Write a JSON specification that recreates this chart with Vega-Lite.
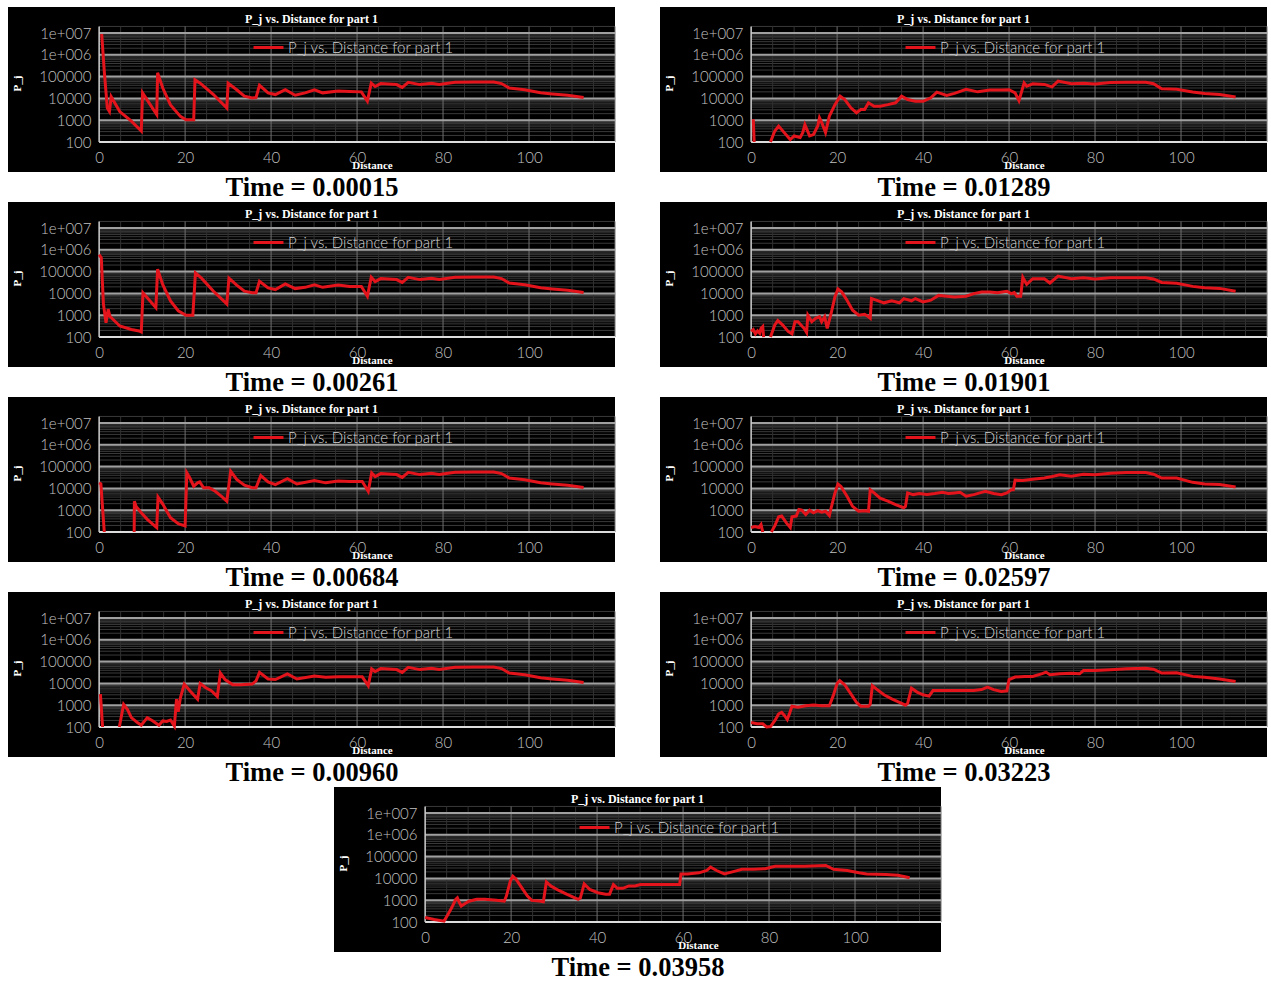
{
"$schema": "https://vega.github.io/schema/vega-lite/v6.json",
"background": "white",
"padding": {"left": 8, "top": 7, "right": 0, "bottom": 0},
"spacing": 0,
"center": true,
"resolve": {"scale": {"color": "independent"}, "legend": {"color": "independent"}},
"config": {
  "view": {"fill": "black", "stroke": null},
  "axis": {"domain": false, "ticks": false, "grid": false, "labelFont": "Lato", "labelFontSize": 15, "labelFontWeight": 300, "labelColor": "#c0c0c0", "labelFlush": false, "labelOverlap": false, "titleFont": "Liberation Serif", "titleFontSize": 11, "titleFontWeight": "bold", "titleColor": "white"},
  "legend": {"orient": "none", "legendX": 244, "legendY": 24, "padding": 0, "symbolType": "stroke", "symbolSize": 900, "symbolStrokeWidth": 3, "labelFont": "Lato", "labelFontSize": 15, "labelFontWeight": 300, "labelColor": "#d4d4d4", "labelOffset": 3, "labelLimit": 0}
},
"datasets": {
  "gh": [
    {"v":200,"k":"minor"},{"v":300,"k":"minor"},{"v":400,"k":"minor"},{"v":500,"k":"minor"},{"v":600,"k":"minor"},{"v":700,"k":"minor"},{"v":800,"k":"minor"},{"v":900,"k":"minor"},
    {"v":2000,"k":"minor"},{"v":3000,"k":"minor"},{"v":4000,"k":"minor"},{"v":5000,"k":"minor"},{"v":6000,"k":"minor"},{"v":7000,"k":"minor"},{"v":8000,"k":"minor"},{"v":9000,"k":"minor"},
    {"v":20000,"k":"minor"},{"v":30000,"k":"minor"},{"v":40000,"k":"minor"},{"v":50000,"k":"minor"},{"v":60000,"k":"minor"},{"v":70000,"k":"minor"},{"v":80000,"k":"minor"},{"v":90000,"k":"minor"},
    {"v":200000,"k":"minor"},{"v":300000,"k":"minor"},{"v":400000,"k":"minor"},{"v":500000,"k":"minor"},{"v":600000,"k":"minor"},{"v":700000,"k":"minor"},{"v":800000,"k":"minor"},{"v":900000,"k":"minor"},
    {"v":2000000,"k":"minor"},{"v":3000000,"k":"minor"},{"v":4000000,"k":"minor"},{"v":5000000,"k":"minor"},{"v":6000000,"k":"minor"},{"v":7000000,"k":"minor"},{"v":8000000,"k":"minor"},{"v":9000000,"k":"minor"},
    {"v":20000000,"k":"minor"},
    {"v":1000,"k":"major"},{"v":10000,"k":"major"},{"v":100000,"k":"major"},{"v":1000000,"k":"major"},{"v":10000000,"k":"major"},
    {"v":100,"k":"axis"}
  ],
  "gv": [
    {"d":5,"k":"minor"},{"d":10,"k":"minor"},{"d":15,"k":"minor"},{"d":25,"k":"minor"},{"d":30,"k":"minor"},{"d":35,"k":"minor"},{"d":45,"k":"minor"},{"d":50,"k":"minor"},{"d":55,"k":"minor"},
    {"d":65,"k":"minor"},{"d":70,"k":"minor"},{"d":75,"k":"minor"},{"d":85,"k":"minor"},{"d":90,"k":"minor"},{"d":95,"k":"minor"},{"d":105,"k":"minor"},{"d":110,"k":"minor"},{"d":115,"k":"minor"},
    {"d":20,"k":"major"},{"d":40,"k":"major"},{"d":60,"k":"major"},{"d":80,"k":"major"},{"d":100,"k":"major"},{"d":120,"k":"major"},
    {"d":0,"k":"axis"}
  ],
  "a": [
    {"d":0.6,"p":9000000},{"d":1.2,"p":170000},{"d":1.9,"p":3600},{"d":2.4,"p":2500},{"d":2.8,"p":12000},{"d":4.8,"p":2500},{"d":7.5,"p":900},{"d":9.8,"p":320},{"d":10.1,"p":18000},{"d":13.4,"p":1800},{"d":13.6,"p":150000},{"d":14.8,"p":30000},{"d":16.6,"p":5000},{"d":18.9,"p":1500},{"d":20.2,"p":1050},{"d":22,"p":1050},{"d":22.3,"p":72000},{"d":23.5,"p":50000},{"d":26.6,"p":15000},{"d":29.7,"p":3600},{"d":30,"p":50000},{"d":32,"p":25000},{"d":33.8,"p":12600},{"d":35.6,"p":10500},{"d":36.5,"p":11000},{"d":37.3,"p":40000},{"d":39.3,"p":18000},{"d":41,"p":15000},{"d":43.3,"p":25000},{"d":45.6,"p":14000},{"d":47.9,"p":18000},{"d":50.1,"p":25000},{"d":52,"p":18000},{"d":55.6,"p":22000},{"d":58.3,"p":21000},{"d":61,"p":20000},{"d":62.4,"p":7500},{"d":63.3,"p":50000},
    {"d":64.2,"p":35000},{"d":65.5,"p":48000},{"d":69.2,"p":43000},{"d":70.5,"p":32000},{"d":71.9,"p":55000},{"d":74.6,"p":43000},{"d":77.3,"p":50000},{"d":79.1,"p":43000},{"d":82.8,"p":55000},{"d":87.3,"p":57000},{"d":91.8,"p":57000},{"d":93.6,"p":48000},{"d":95.4,"p":30000},{"d":99,"p":25000},{"d":102.7,"p":18000},{"d":105.4,"p":16000},{"d":109,"p":14000},{"d":112.7,"p":11000}
  ],
  "b": [
    {"d":0,"p":600000},{"d":0.5,"p":430000},{"d":1,"p":3200},{"d":1.6,"p":450},{"d":2.1,"p":1900},{"d":2.5,"p":900},{"d":4.8,"p":320},{"d":7.5,"p":220},{"d":9.3,"p":190},{"d":9.8,"p":170},{"d":10.2,"p":10700},{"d":13.2,"p":2200},{"d":13.6,"p":130000},{"d":14.8,"p":25000},{"d":16.6,"p":4500},{"d":18.4,"p":1600},{"d":20.2,"p":1000},{"d":21.8,"p":1000},{"d":22.4,"p":87000},{"d":23.8,"p":50000},{"d":26.6,"p":12600},{"d":29.7,"p":3300},{"d":30.2,"p":50000},{"d":32,"p":24000},{"d":33.8,"p":12600},{"d":35.6,"p":10700},{"d":36.5,"p":10700},{"d":37.3,"p":36000},{"d":39.3,"p":18000},{"d":41,"p":15000},{"d":43.3,"p":27500},{"d":45.6,"p":16600},{"d":47.9,"p":19000},{"d":50.1,"p":25000},{"d":52,"p":19000},{"d":55.6,"p":24000},{"d":58.3,"p":21000},{"d":61,"p":21000},{"d":62.4,"p":7400},{"d":63.3,"p":55000},
    {"d":64.2,"p":35000},{"d":65.5,"p":48000},{"d":69.2,"p":43000},{"d":70.5,"p":32000},{"d":71.9,"p":55000},{"d":74.6,"p":43000},{"d":77.3,"p":50000},{"d":79.1,"p":43000},{"d":82.8,"p":55000},{"d":87.3,"p":57000},{"d":91.8,"p":57000},{"d":93.6,"p":48000},{"d":95.4,"p":30000},{"d":99,"p":25000},{"d":102.7,"p":18000},{"d":105.4,"p":16000},{"d":109,"p":14000},{"d":112.7,"p":11000}
  ],
  "c": [
    {"d":0,"p":18000},{"d":0.4,"p":16000},{"d":1.2,"p":100},{"d":4,"p":null},{"d":8.15,"p":100},{"d":8.2,"p":2600},{"d":8.6,"p":1500},{"d":9.8,"p":760},{"d":11.2,"p":380},{"d":13.4,"p":160},{"d":13.7,"p":4000},{"d":14.8,"p":1900},{"d":16.6,"p":450},{"d":18.4,"p":240},{"d":20,"p":190},{"d":20.4,"p":52000},{"d":21.1,"p":30000},{"d":22,"p":12600},{"d":22.9,"p":18000},{"d":23.4,"p":20000},{"d":24.3,"p":10700},{"d":25.6,"p":10700},{"d":27,"p":7400},{"d":28.4,"p":4400},{"d":29.7,"p":2600},{"d":30.6,"p":62000},{"d":32,"p":26000},{"d":33.8,"p":14000},{"d":35.6,"p":10700},{"d":36.5,"p":10700},{"d":37.6,"p":39000},{"d":39.3,"p":20000},{"d":41,"p":15000},{"d":43.8,"p":28000},{"d":46,"p":16000},{"d":50.1,"p":23000},{"d":52.7,"p":18000},{"d":55.6,"p":22000},{"d":58.3,"p":21000},{"d":61.2,"p":21000},{"d":62.6,"p":7400},{"d":63.4,"p":51000},
    {"d":64.2,"p":35000},{"d":65.5,"p":48000},{"d":69.2,"p":43000},{"d":70.5,"p":32000},{"d":71.9,"p":55000},{"d":74.6,"p":43000},{"d":77.3,"p":50000},{"d":79.1,"p":43000},{"d":82.8,"p":55000},{"d":87.3,"p":57000},{"d":91.8,"p":57000},{"d":93.6,"p":48000},{"d":95.4,"p":30000},{"d":99,"p":25000},{"d":102.7,"p":18000},{"d":105.4,"p":16000},{"d":109,"p":14000},{"d":112.7,"p":11000}
  ],
  "dd": [
    {"d":0.3,"p":3200},{"d":0.8,"p":100},{"d":2.5,"p":null},{"d":4.7,"p":100},{"d":5.7,"p":1100},{"d":6.6,"p":630},{"d":7.5,"p":270},{"d":8.9,"p":160},{"d":9.8,"p":120},{"d":11.2,"p":270},{"d":12.5,"p":190},{"d":13.9,"p":120},{"d":14.8,"p":190},{"d":15.7,"p":180},{"d":16.6,"p":210},{"d":17.5,"p":110},{"d":18,"p":1900},{"d":18.4,"p":500},{"d":18.9,"p":2200},{"d":19.8,"p":9300},{"d":21.1,"p":4600},{"d":22.9,"p":1900},{"d":23.5,"p":10000},{"d":24.8,"p":6300},{"d":26.1,"p":4600},{"d":27.5,"p":2500},{"d":28.2,"p":30000},{"d":29.3,"p":15000},{"d":31.1,"p":8700},{"d":33,"p":8700},{"d":35.6,"p":9300},{"d":36.5,"p":13000},{"d":37.3,"p":32000},{"d":39.3,"p":16000},{"d":41,"p":15000},{"d":43.8,"p":27000},{"d":46,"p":16000},{"d":50.1,"p":22000},{"d":52.7,"p":19000},{"d":55.6,"p":20000},{"d":58.3,"p":20000},{"d":61.2,"p":20000},{"d":62.6,"p":7900},{"d":63.4,"p":46000},
    {"d":64.2,"p":35000},{"d":65.5,"p":48000},{"d":69.2,"p":43000},{"d":70.5,"p":32000},{"d":71.9,"p":55000},{"d":74.6,"p":43000},{"d":77.3,"p":50000},{"d":79.1,"p":43000},{"d":82.8,"p":55000},{"d":87.3,"p":57000},{"d":91.8,"p":57000},{"d":93.6,"p":48000},{"d":95.4,"p":30000},{"d":99,"p":25000},{"d":102.7,"p":18000},{"d":105.4,"p":16000},{"d":109,"p":14000},{"d":112.7,"p":11000}
  ],
  "e": [
    {"d":0.5,"p":1100},{"d":0.7,"p":100},{"d":2.5,"p":null},{"d":4.5,"p":100},{"d":5.5,"p":320},{"d":6.4,"p":540},{"d":7.7,"p":270},{"d":9.1,"p":130},{"d":10,"p":190},{"d":11.4,"p":160},{"d":12,"p":270},{"d":12.5,"p":630},{"d":13.6,"p":190},{"d":14.5,"p":220},{"d":15.5,"p":540},{"d":15.9,"p":1300},{"d":16.4,"p":800},{"d":17.3,"p":270},{"d":18.2,"p":1550},{"d":19.5,"p":5200},{"d":20.7,"p":12600},{"d":21.8,"p":8900},{"d":23.2,"p":3700},{"d":24.5,"p":2200},{"d":25.5,"p":3100},{"d":26.4,"p":3100},{"d":27.3,"p":6300},{"d":28.6,"p":4400},{"d":30,"p":4400},{"d":31.8,"p":5200},{"d":33.6,"p":6300},{"d":35,"p":12600},{"d":36.4,"p":8900},{"d":38.2,"p":7400},{"d":40,"p":7400},{"d":41.8,"p":10700},{"d":43.2,"p":19500},{"d":45.5,"p":13800},{"d":47.3,"p":17000},{"d":50,"p":26000},{"d":52.7,"p":20000},{"d":55.5,"p":24000},{"d":58.2,"p":24000},{"d":60,"p":25000},{"d":61.4,"p":18000},{"d":62.3,"p":7900},{"d":63.5,"p":51000},{"d":64.1,"p":36000},{"d":65.5,"p":47000},{"d":68.2,"p":44000},{"d":70,"p":34000},{"d":71.4,"p":62000},{"d":74.5,"p":47000},{"d":77.3,"p":50000},{"d":80,"p":46000},{"d":83.6,"p":53000},{"d":87.3,"p":55000},{"d":91.8,"p":55000},{"d":93.6,"p":47000},{"d":95.5,"p":28000},{"d":99,"p":26000},{"d":102.7,"p":19500},{"d":105.5,"p":17000},{"d":109,"p":15000},{"d":112.7,"p":11700}
  ],
  "f": [
    {"d":0,"p":180},{"d":0.5,"p":220},{"d":1,"p":140},{"d":1.5,"p":190},{"d":2,"p":150},{"d":2.3,"p":250},{"d":2.7,"p":300},{"d":2.9,"p":100},{"d":3.7,"p":null},{"d":4.5,"p":100},{"d":5.5,"p":360},{"d":6.2,"p":570},{"d":7.3,"p":360},{"d":8.6,"p":180},{"d":9.5,"p":140},{"d":10.2,"p":500},{"d":10.9,"p":500},{"d":12.3,"p":250},{"d":12.9,"p":160},{"d":13.2,"p":1000},{"d":14.1,"p":500},{"d":15,"p":720},{"d":15.9,"p":850},{"d":16.4,"p":500},{"d":17.1,"p":850},{"d":17.7,"p":250},{"d":18.6,"p":1200},{"d":19.5,"p":7000},{"d":20.2,"p":16000},{"d":21.1,"p":11500},{"d":22.3,"p":4900},{"d":23.6,"p":1700},{"d":25,"p":1000},{"d":26.4,"p":1100},{"d":27.3,"p":850},{"d":27.7,"p":730},{"d":28,"p":5800},{"d":29.1,"p":4900},{"d":30.9,"p":3700},{"d":32.7,"p":4600},{"d":34.5,"p":3700},{"d":35.5,"p":5800},{"d":37.3,"p":4600},{"d":38.2,"p":5800},{"d":40,"p":4100},{"d":41.8,"p":4900},{"d":43.6,"p":8100},{"d":45.5,"p":7400},{"d":47.3,"p":6900},{"d":50,"p":7400},{"d":51.8,"p":9800},{"d":53.6,"p":11500},{"d":55.5,"p":11500},{"d":57.3,"p":10800},{"d":59.5,"p":12600},{"d":60.5,"p":9800},{"d":61.2,"p":11000},{"d":61.8,"p":7400},{"d":62.7,"p":7400},{"d":63.2,"p":55000},{"d":64.1,"p":26000},{"d":65.5,"p":47000},{"d":68.2,"p":47000},{"d":69.5,"p":30000},{"d":71.4,"p":62000},{"d":74.5,"p":47000},{"d":77.3,"p":52000},{"d":80,"p":46000},{"d":83.6,"p":52000},{"d":87.3,"p":52000},{"d":91.8,"p":52000},{"d":93.6,"p":46000},{"d":95.5,"p":32000},{"d":99,"p":29000},{"d":102.7,"p":21000},{"d":105.5,"p":18000},{"d":109,"p":17000},{"d":112.7,"p":12600}
  ],
  "g": [
    {"d":0,"p":160},{"d":0.9,"p":180},{"d":1.8,"p":160},{"d":2.3,"p":220},{"d":2.7,"p":100},{"d":3.7,"p":null},{"d":4.7,"p":100},{"d":5.5,"p":190},{"d":6.4,"p":500},{"d":7.1,"p":540},{"d":8.2,"p":260},{"d":9.1,"p":160},{"d":9.5,"p":500},{"d":10.5,"p":540},{"d":11.1,"p":1070},{"d":11.8,"p":1000},{"d":12.7,"p":630},{"d":13.6,"p":1000},{"d":14.5,"p":760},{"d":15.5,"p":950},{"d":16.4,"p":810},{"d":17.3,"p":900},{"d":18.2,"p":570},{"d":18.6,"p":1260},{"d":19.5,"p":6200},{"d":20.2,"p":16000},{"d":20.9,"p":12300},{"d":22.3,"p":4400},{"d":23.6,"p":1500},{"d":25,"p":900},{"d":26.4,"p":950},{"d":27.3,"p":900},{"d":27.7,"p":8700},{"d":28.6,"p":6200},{"d":30,"p":3600},{"d":31.8,"p":2600},{"d":33.6,"p":1800},{"d":35.5,"p":1300},{"d":35.9,"p":1500},{"d":36.4,"p":6200},{"d":37.7,"p":5200},{"d":39.1,"p":5800},{"d":40.9,"p":5200},{"d":42.7,"p":5800},{"d":44.5,"p":6600},{"d":45.9,"p":5800},{"d":47.3,"p":6200},{"d":48.6,"p":6600},{"d":50,"p":4400},{"d":51.8,"p":5200},{"d":53.6,"p":6600},{"d":54.5,"p":7300},{"d":56.4,"p":5800},{"d":58.2,"p":5100},{"d":59.5,"p":6200},{"d":60.5,"p":8700},{"d":61,"p":8700},{"d":61.4,"p":24000},{"d":63.2,"p":23000},{"d":65.5,"p":26000},{"d":68.2,"p":30000},{"d":70,"p":35000},{"d":71.8,"p":42000},{"d":74.5,"p":36000},{"d":77.3,"p":45000},{"d":80,"p":42000},{"d":83.6,"p":50000},{"d":87.3,"p":54000},{"d":91.8,"p":54000},{"d":93.6,"p":45000},{"d":95.5,"p":30000},{"d":99,"p":30000},{"d":102.7,"p":19000},{"d":105.5,"p":16000},{"d":109,"p":15000},{"d":112.7,"p":11500}
  ],
  "h": [
    {"d":0,"p":160},{"d":1.4,"p":140},{"d":2.7,"p":140},{"d":3.6,"p":100},{"d":4.5,"p":105},{"d":5.5,"p":195},{"d":6.4,"p":400},{"d":7.1,"p":470},{"d":7.7,"p":350},{"d":8.4,"p":220},{"d":8.9,"p":400},{"d":9.5,"p":900},{"d":10.9,"p":800},{"d":12.7,"p":950},{"d":14.5,"p":1020},{"d":16.4,"p":950},{"d":18.2,"p":950},{"d":19.1,"p":2750},{"d":20,"p":10000},{"d":20.6,"p":13500},{"d":21.8,"p":8500},{"d":23.2,"p":3300},{"d":24.5,"p":1350},{"d":25.5,"p":900},{"d":27.3,"p":900},{"d":27.7,"p":1100},{"d":28.2,"p":7900},{"d":29.1,"p":5600},{"d":30.9,"p":3000},{"d":32.7,"p":1950},{"d":34.5,"p":1350},{"d":35.9,"p":1000},{"d":36.4,"p":1200},{"d":37.3,"p":6000},{"d":38.6,"p":4000},{"d":40,"p":3000},{"d":41.4,"p":2600},{"d":42.3,"p":4700},{"d":43.6,"p":4700},{"d":46.4,"p":4700},{"d":49.1,"p":4700},{"d":51.8,"p":4700},{"d":53.6,"p":5200},{"d":55,"p":6700},{"d":56.4,"p":5200},{"d":58.2,"p":4300},{"d":59.5,"p":4600},{"d":60,"p":15000},{"d":61.4,"p":19500},{"d":63.6,"p":21000},{"d":65.5,"p":21000},{"d":67.7,"p":28000},{"d":68.6,"p":33000},{"d":69.5,"p":25000},{"d":71.8,"p":27500},{"d":74.5,"p":29000},{"d":76.4,"p":27500},{"d":77.3,"p":39000},{"d":80,"p":39000},{"d":83.6,"p":42000},{"d":87.3,"p":47000},{"d":91.8,"p":50000},{"d":93.6,"p":45000},{"d":95.5,"p":30000},{"d":99,"p":31000},{"d":102.7,"p":21000},{"d":105.5,"p":19000},{"d":109,"p":16000},{"d":112.7,"p":12300}
  ],
  "i": [
    {"d":0,"p":160},{"d":2.1,"p":130},{"d":4.4,"p":110},{"d":5.3,"p":220},{"d":6.2,"p":460},{"d":7.1,"p":1100},{"d":7.5,"p":1300},{"d":8,"p":760},{"d":8.4,"p":540},{"d":9.3,"p":700},{"d":10.2,"p":900},{"d":12,"p":1100},{"d":13.9,"p":1100},{"d":16.6,"p":1000},{"d":18.4,"p":900},{"d":18.9,"p":1550},{"d":19.8,"p":7400},{"d":20.4,"p":12600},{"d":21.1,"p":9500},{"d":22.5,"p":3700},{"d":23.8,"p":1550},{"d":24.8,"p":980},{"d":26.6,"p":910},{"d":27.5,"p":850},{"d":28.2,"p":6900},{"d":29.3,"p":4400},{"d":31.1,"p":2800},{"d":32.9,"p":1900},{"d":34.7,"p":1300},{"d":35.6,"p":1100},{"d":36.1,"p":1250},{"d":37,"p":5600},{"d":38.3,"p":3100},{"d":40.2,"p":2200},{"d":42,"p":1900},{"d":42.9,"p":1900},{"d":43.8,"p":5200},{"d":44.7,"p":3500},{"d":46,"p":3500},{"d":47.4,"p":4500},{"d":48.8,"p":4500},{"d":50.1,"p":5200},{"d":52.8,"p":5200},{"d":55.6,"p":5200},{"d":58.3,"p":5200},{"d":59.2,"p":5200},{"d":59.5,"p":16000},{"d":61,"p":16000},{"d":63.7,"p":18000},{"d":65.5,"p":23000},{"d":66.4,"p":33000},{"d":67.8,"p":23000},{"d":69.6,"p":16000},{"d":71.9,"p":21000},{"d":73.7,"p":26000},{"d":76.4,"p":26000},{"d":79.1,"p":28000},{"d":81.4,"p":36000},{"d":84.6,"p":36000},{"d":88.2,"p":36000},{"d":93.2,"p":39000},{"d":95,"p":26000},{"d":98.2,"p":23000},{"d":100.9,"p":18000},{"d":102.7,"p":16000},{"d":107.2,"p":15000},{"d":110,"p":14000},{"d":112.7,"p":10700}
  ]
},
"vconcat": [
  {"hconcat": [
    {"title": {"text": "Time = 0.00015", "orient": "bottom", "anchor": "middle", "offset": 24, "baseline": "alphabetic", "font": "Liberation Serif", "fontSize": 26.5, "fontWeight": "bold", "color": "black"},
     "resolve": {"scale": {"color": "independent"}, "legend": {"color": "independent"}},
     "vconcat": [{"width": 607, "height": 165,
       "title": {"text": "P_j vs. Distance for part 1", "orient": "top", "anchor": "middle", "frame": "group", "offset": -28, "baseline": "alphabetic", "font": "Liberation Serif", "fontSize": 12, "fontWeight": "bold", "color": "white"},
       "resolve": {"axis": {"x": "independent", "y": "independent"}},
       "layer": [
         {"data": {"name": "gh"}, "transform": [{"filter": "datum.k == 'minor'"}], "mark": {"type": "rule", "color": "#3a3a3a", "strokeWidth": 1}, "encoding": {"y": {"field": "v", "type": "quantitative", "scale": {"type": "log", "domain": [4.21, 156000000], "nice": false}, "axis": null}, "x": {"datum": 0, "type": "quantitative", "scale": {"domain": [-21.2, 120], "nice": false, "zero": false}, "axis": null}, "x2": {"datum": 120}}},
         {"data": {"name": "gv"}, "transform": [{"filter": "datum.k == 'minor'"}], "mark": {"type": "rule", "color": "#303030", "strokeWidth": 1}, "encoding": {"x": {"field": "d", "type": "quantitative", "axis": null}, "y": {"datum": 100, "type": "quantitative", "axis": null}, "y2": {"datum": 20000000}}},
         {"data": {"name": "gv"}, "transform": [{"filter": "datum.k == 'major'"}], "mark": {"type": "rule", "color": "#707070", "strokeWidth": 1}, "encoding": {"x": {"field": "d", "type": "quantitative", "axis": null}, "y": {"datum": 100, "type": "quantitative", "axis": null}, "y2": {"datum": 20000000}}},
         {"data": {"name": "gh"}, "transform": [{"filter": "datum.k == 'major'"}], "mark": {"type": "rule", "color": "#a0a0a0", "strokeWidth": 2}, "encoding": {"y": {"field": "v", "type": "quantitative", "axis": null}, "x": {"datum": 0, "type": "quantitative", "axis": null}, "x2": {"datum": 120}}},
         {"data": {"name": "gh"}, "transform": [{"filter": "datum.k == 'axis'"}], "mark": {"type": "rule", "color": "#dddddd", "strokeWidth": 2}, "encoding": {"y": {"field": "v", "type": "quantitative", "axis": null}, "x": {"datum": 0, "type": "quantitative", "axis": null}, "x2": {"datum": 120}}},
         {"data": {"name": "gv"}, "transform": [{"filter": "datum.k == 'axis'"}], "mark": {"type": "rule", "color": "#d0d0d0", "strokeWidth": 1.5}, "encoding": {"x": {"field": "d", "type": "quantitative", "axis": null}, "y": {"datum": 100, "type": "quantitative", "axis": null}, "y2": {"datum": 20000000}}},
         {"data": {"name": "a"}, "mark": {"type": "line", "strokeWidth": 3, "clip": true},
          "encoding": {
            "x": {"field": "d", "type": "quantitative", "scale": {"domain": [-21.2, 120], "nice": false, "zero": false}, "axis": {"orient": "bottom", "values": [0, 20, 40, 60, 80, 100], "offset": -30, "zindex": 1, "domain": false, "ticks": false, "grid": false, "labelPadding": 8, "labelFont": "Lato", "labelFontSize": 15, "labelFontWeight": 300, "labelColor": "#c0c0c0", "labelFlush": false, "labelOverlap": false, "title": "Distance", "titleX": 364, "titleY": 26, "titleBaseline": "alphabetic", "titleAlign": "center", "titleFont": "Liberation Serif", "titleFontSize": 11, "titleFontWeight": "bold", "titleColor": "white"}},
            "y": {"field": "p", "type": "quantitative", "scale": {"type": "log", "domain": [4.21, 156000000], "nice": false}, "axis": {"orient": "left", "values": [100, 1000, 10000, 100000, 1000000, 10000000], "offset": -91, "zindex": 1, "domain": false, "ticks": false, "grid": false, "labelPadding": 8, "labelFont": "Lato", "labelFontSize": 15, "labelFontWeight": 300, "labelColor": "#c0c0c0", "labelOverlap": false, "labelFlush": false, "labelExpr": "datum.value == 10000000 ? '1e+007' : datum.value == 1000000 ? '1e+006' : format(datum.value, 'd')", "title": "P_j", "titleX": -82, "titleY": 76, "titleAngle": -90, "titleBaseline": "middle", "titleAlign": "center", "titleFont": "Liberation Serif", "titleFontSize": 11, "titleFontWeight": "bold", "titleColor": "white"}},
            "color": {"datum": "P_j vs. Distance for part 1", "type": "nominal", "scale": {"range": ["#e3141b"]}, "legend": {"title": null}}
          }}
       ]}]},
    {"title": {"text": "Time = 0.01289", "orient": "bottom", "anchor": "middle", "offset": 24, "baseline": "alphabetic", "font": "Liberation Serif", "fontSize": 26.5, "fontWeight": "bold", "color": "black"},
     "resolve": {"scale": {"color": "independent"}, "legend": {"color": "independent"}},
     "vconcat": [{"width": 607, "height": 165,
       "title": {"text": "P_j vs. Distance for part 1", "orient": "top", "anchor": "middle", "frame": "group", "offset": -28, "baseline": "alphabetic", "font": "Liberation Serif", "fontSize": 12, "fontWeight": "bold", "color": "white"},
       "resolve": {"axis": {"x": "independent", "y": "independent"}},
       "layer": [
         {"data": {"name": "gh"}, "transform": [{"filter": "datum.k == 'minor'"}], "mark": {"type": "rule", "color": "#3a3a3a", "strokeWidth": 1}, "encoding": {"y": {"field": "v", "type": "quantitative", "scale": {"type": "log", "domain": [4.21, 156000000], "nice": false}, "axis": null}, "x": {"datum": 0, "type": "quantitative", "scale": {"domain": [-21.2, 120], "nice": false, "zero": false}, "axis": null}, "x2": {"datum": 120}}},
         {"data": {"name": "gv"}, "transform": [{"filter": "datum.k == 'minor'"}], "mark": {"type": "rule", "color": "#303030", "strokeWidth": 1}, "encoding": {"x": {"field": "d", "type": "quantitative", "axis": null}, "y": {"datum": 100, "type": "quantitative", "axis": null}, "y2": {"datum": 20000000}}},
         {"data": {"name": "gv"}, "transform": [{"filter": "datum.k == 'major'"}], "mark": {"type": "rule", "color": "#707070", "strokeWidth": 1}, "encoding": {"x": {"field": "d", "type": "quantitative", "axis": null}, "y": {"datum": 100, "type": "quantitative", "axis": null}, "y2": {"datum": 20000000}}},
         {"data": {"name": "gh"}, "transform": [{"filter": "datum.k == 'major'"}], "mark": {"type": "rule", "color": "#a0a0a0", "strokeWidth": 2}, "encoding": {"y": {"field": "v", "type": "quantitative", "axis": null}, "x": {"datum": 0, "type": "quantitative", "axis": null}, "x2": {"datum": 120}}},
         {"data": {"name": "gh"}, "transform": [{"filter": "datum.k == 'axis'"}], "mark": {"type": "rule", "color": "#dddddd", "strokeWidth": 2}, "encoding": {"y": {"field": "v", "type": "quantitative", "axis": null}, "x": {"datum": 0, "type": "quantitative", "axis": null}, "x2": {"datum": 120}}},
         {"data": {"name": "gv"}, "transform": [{"filter": "datum.k == 'axis'"}], "mark": {"type": "rule", "color": "#d0d0d0", "strokeWidth": 1.5}, "encoding": {"x": {"field": "d", "type": "quantitative", "axis": null}, "y": {"datum": 100, "type": "quantitative", "axis": null}, "y2": {"datum": 20000000}}},
         {"data": {"name": "e"}, "mark": {"type": "line", "strokeWidth": 3, "clip": true},
          "encoding": {
            "x": {"field": "d", "type": "quantitative", "scale": {"domain": [-21.2, 120], "nice": false, "zero": false}, "axis": {"orient": "bottom", "values": [0, 20, 40, 60, 80, 100], "offset": -30, "zindex": 1, "domain": false, "ticks": false, "grid": false, "labelPadding": 8, "labelFont": "Lato", "labelFontSize": 15, "labelFontWeight": 300, "labelColor": "#c0c0c0", "labelFlush": false, "labelOverlap": false, "title": "Distance", "titleX": 364, "titleY": 26, "titleBaseline": "alphabetic", "titleAlign": "center", "titleFont": "Liberation Serif", "titleFontSize": 11, "titleFontWeight": "bold", "titleColor": "white"}},
            "y": {"field": "p", "type": "quantitative", "scale": {"type": "log", "domain": [4.21, 156000000], "nice": false}, "axis": {"orient": "left", "values": [100, 1000, 10000, 100000, 1000000, 10000000], "offset": -91, "zindex": 1, "domain": false, "ticks": false, "grid": false, "labelPadding": 8, "labelFont": "Lato", "labelFontSize": 15, "labelFontWeight": 300, "labelColor": "#c0c0c0", "labelOverlap": false, "labelFlush": false, "labelExpr": "datum.value == 10000000 ? '1e+007' : datum.value == 1000000 ? '1e+006' : format(datum.value, 'd')", "title": "P_j", "titleX": -82, "titleY": 76, "titleAngle": -90, "titleBaseline": "middle", "titleAlign": "center", "titleFont": "Liberation Serif", "titleFontSize": 11, "titleFontWeight": "bold", "titleColor": "white"}},
            "color": {"datum": "P_j vs. Distance for part 1", "type": "nominal", "scale": {"range": ["#e3141b"]}, "legend": {"title": null}}
          }}
       ]}]}
  ], "spacing": 44, "resolve": {"scale": {"color": "independent"}, "legend": {"color": "independent"}}},
  {"hconcat": [
    {"title": {"text": "Time = 0.00261", "orient": "bottom", "anchor": "middle", "offset": 24, "baseline": "alphabetic", "font": "Liberation Serif", "fontSize": 26.5, "fontWeight": "bold", "color": "black"},
     "resolve": {"scale": {"color": "independent"}, "legend": {"color": "independent"}},
     "vconcat": [{"width": 607, "height": 165,
       "title": {"text": "P_j vs. Distance for part 1", "orient": "top", "anchor": "middle", "frame": "group", "offset": -28, "baseline": "alphabetic", "font": "Liberation Serif", "fontSize": 12, "fontWeight": "bold", "color": "white"},
       "resolve": {"axis": {"x": "independent", "y": "independent"}},
       "layer": [
         {"data": {"name": "gh"}, "transform": [{"filter": "datum.k == 'minor'"}], "mark": {"type": "rule", "color": "#3a3a3a", "strokeWidth": 1}, "encoding": {"y": {"field": "v", "type": "quantitative", "scale": {"type": "log", "domain": [4.21, 156000000], "nice": false}, "axis": null}, "x": {"datum": 0, "type": "quantitative", "scale": {"domain": [-21.2, 120], "nice": false, "zero": false}, "axis": null}, "x2": {"datum": 120}}},
         {"data": {"name": "gv"}, "transform": [{"filter": "datum.k == 'minor'"}], "mark": {"type": "rule", "color": "#303030", "strokeWidth": 1}, "encoding": {"x": {"field": "d", "type": "quantitative", "axis": null}, "y": {"datum": 100, "type": "quantitative", "axis": null}, "y2": {"datum": 20000000}}},
         {"data": {"name": "gv"}, "transform": [{"filter": "datum.k == 'major'"}], "mark": {"type": "rule", "color": "#707070", "strokeWidth": 1}, "encoding": {"x": {"field": "d", "type": "quantitative", "axis": null}, "y": {"datum": 100, "type": "quantitative", "axis": null}, "y2": {"datum": 20000000}}},
         {"data": {"name": "gh"}, "transform": [{"filter": "datum.k == 'major'"}], "mark": {"type": "rule", "color": "#a0a0a0", "strokeWidth": 2}, "encoding": {"y": {"field": "v", "type": "quantitative", "axis": null}, "x": {"datum": 0, "type": "quantitative", "axis": null}, "x2": {"datum": 120}}},
         {"data": {"name": "gh"}, "transform": [{"filter": "datum.k == 'axis'"}], "mark": {"type": "rule", "color": "#dddddd", "strokeWidth": 2}, "encoding": {"y": {"field": "v", "type": "quantitative", "axis": null}, "x": {"datum": 0, "type": "quantitative", "axis": null}, "x2": {"datum": 120}}},
         {"data": {"name": "gv"}, "transform": [{"filter": "datum.k == 'axis'"}], "mark": {"type": "rule", "color": "#d0d0d0", "strokeWidth": 1.5}, "encoding": {"x": {"field": "d", "type": "quantitative", "axis": null}, "y": {"datum": 100, "type": "quantitative", "axis": null}, "y2": {"datum": 20000000}}},
         {"data": {"name": "b"}, "mark": {"type": "line", "strokeWidth": 3, "clip": true},
          "encoding": {
            "x": {"field": "d", "type": "quantitative", "scale": {"domain": [-21.2, 120], "nice": false, "zero": false}, "axis": {"orient": "bottom", "values": [0, 20, 40, 60, 80, 100], "offset": -30, "zindex": 1, "domain": false, "ticks": false, "grid": false, "labelPadding": 8, "labelFont": "Lato", "labelFontSize": 15, "labelFontWeight": 300, "labelColor": "#c0c0c0", "labelFlush": false, "labelOverlap": false, "title": "Distance", "titleX": 364, "titleY": 26, "titleBaseline": "alphabetic", "titleAlign": "center", "titleFont": "Liberation Serif", "titleFontSize": 11, "titleFontWeight": "bold", "titleColor": "white"}},
            "y": {"field": "p", "type": "quantitative", "scale": {"type": "log", "domain": [4.21, 156000000], "nice": false}, "axis": {"orient": "left", "values": [100, 1000, 10000, 100000, 1000000, 10000000], "offset": -91, "zindex": 1, "domain": false, "ticks": false, "grid": false, "labelPadding": 8, "labelFont": "Lato", "labelFontSize": 15, "labelFontWeight": 300, "labelColor": "#c0c0c0", "labelOverlap": false, "labelFlush": false, "labelExpr": "datum.value == 10000000 ? '1e+007' : datum.value == 1000000 ? '1e+006' : format(datum.value, 'd')", "title": "P_j", "titleX": -82, "titleY": 76, "titleAngle": -90, "titleBaseline": "middle", "titleAlign": "center", "titleFont": "Liberation Serif", "titleFontSize": 11, "titleFontWeight": "bold", "titleColor": "white"}},
            "color": {"datum": "P_j vs. Distance for part 1", "type": "nominal", "scale": {"range": ["#e3141b"]}, "legend": {"title": null}}
          }}
       ]}]},
    {"title": {"text": "Time = 0.01901", "orient": "bottom", "anchor": "middle", "offset": 24, "baseline": "alphabetic", "font": "Liberation Serif", "fontSize": 26.5, "fontWeight": "bold", "color": "black"},
     "resolve": {"scale": {"color": "independent"}, "legend": {"color": "independent"}},
     "vconcat": [{"width": 607, "height": 165,
       "title": {"text": "P_j vs. Distance for part 1", "orient": "top", "anchor": "middle", "frame": "group", "offset": -28, "baseline": "alphabetic", "font": "Liberation Serif", "fontSize": 12, "fontWeight": "bold", "color": "white"},
       "resolve": {"axis": {"x": "independent", "y": "independent"}},
       "layer": [
         {"data": {"name": "gh"}, "transform": [{"filter": "datum.k == 'minor'"}], "mark": {"type": "rule", "color": "#3a3a3a", "strokeWidth": 1}, "encoding": {"y": {"field": "v", "type": "quantitative", "scale": {"type": "log", "domain": [4.21, 156000000], "nice": false}, "axis": null}, "x": {"datum": 0, "type": "quantitative", "scale": {"domain": [-21.2, 120], "nice": false, "zero": false}, "axis": null}, "x2": {"datum": 120}}},
         {"data": {"name": "gv"}, "transform": [{"filter": "datum.k == 'minor'"}], "mark": {"type": "rule", "color": "#303030", "strokeWidth": 1}, "encoding": {"x": {"field": "d", "type": "quantitative", "axis": null}, "y": {"datum": 100, "type": "quantitative", "axis": null}, "y2": {"datum": 20000000}}},
         {"data": {"name": "gv"}, "transform": [{"filter": "datum.k == 'major'"}], "mark": {"type": "rule", "color": "#707070", "strokeWidth": 1}, "encoding": {"x": {"field": "d", "type": "quantitative", "axis": null}, "y": {"datum": 100, "type": "quantitative", "axis": null}, "y2": {"datum": 20000000}}},
         {"data": {"name": "gh"}, "transform": [{"filter": "datum.k == 'major'"}], "mark": {"type": "rule", "color": "#a0a0a0", "strokeWidth": 2}, "encoding": {"y": {"field": "v", "type": "quantitative", "axis": null}, "x": {"datum": 0, "type": "quantitative", "axis": null}, "x2": {"datum": 120}}},
         {"data": {"name": "gh"}, "transform": [{"filter": "datum.k == 'axis'"}], "mark": {"type": "rule", "color": "#dddddd", "strokeWidth": 2}, "encoding": {"y": {"field": "v", "type": "quantitative", "axis": null}, "x": {"datum": 0, "type": "quantitative", "axis": null}, "x2": {"datum": 120}}},
         {"data": {"name": "gv"}, "transform": [{"filter": "datum.k == 'axis'"}], "mark": {"type": "rule", "color": "#d0d0d0", "strokeWidth": 1.5}, "encoding": {"x": {"field": "d", "type": "quantitative", "axis": null}, "y": {"datum": 100, "type": "quantitative", "axis": null}, "y2": {"datum": 20000000}}},
         {"data": {"name": "f"}, "mark": {"type": "line", "strokeWidth": 3, "clip": true},
          "encoding": {
            "x": {"field": "d", "type": "quantitative", "scale": {"domain": [-21.2, 120], "nice": false, "zero": false}, "axis": {"orient": "bottom", "values": [0, 20, 40, 60, 80, 100], "offset": -30, "zindex": 1, "domain": false, "ticks": false, "grid": false, "labelPadding": 8, "labelFont": "Lato", "labelFontSize": 15, "labelFontWeight": 300, "labelColor": "#c0c0c0", "labelFlush": false, "labelOverlap": false, "title": "Distance", "titleX": 364, "titleY": 26, "titleBaseline": "alphabetic", "titleAlign": "center", "titleFont": "Liberation Serif", "titleFontSize": 11, "titleFontWeight": "bold", "titleColor": "white"}},
            "y": {"field": "p", "type": "quantitative", "scale": {"type": "log", "domain": [4.21, 156000000], "nice": false}, "axis": {"orient": "left", "values": [100, 1000, 10000, 100000, 1000000, 10000000], "offset": -91, "zindex": 1, "domain": false, "ticks": false, "grid": false, "labelPadding": 8, "labelFont": "Lato", "labelFontSize": 15, "labelFontWeight": 300, "labelColor": "#c0c0c0", "labelOverlap": false, "labelFlush": false, "labelExpr": "datum.value == 10000000 ? '1e+007' : datum.value == 1000000 ? '1e+006' : format(datum.value, 'd')", "title": "P_j", "titleX": -82, "titleY": 76, "titleAngle": -90, "titleBaseline": "middle", "titleAlign": "center", "titleFont": "Liberation Serif", "titleFontSize": 11, "titleFontWeight": "bold", "titleColor": "white"}},
            "color": {"datum": "P_j vs. Distance for part 1", "type": "nominal", "scale": {"range": ["#e3141b"]}, "legend": {"title": null}}
          }}
       ]}]}
  ], "spacing": 44, "resolve": {"scale": {"color": "independent"}, "legend": {"color": "independent"}}},
  {"hconcat": [
    {"title": {"text": "Time = 0.00684", "orient": "bottom", "anchor": "middle", "offset": 24, "baseline": "alphabetic", "font": "Liberation Serif", "fontSize": 26.5, "fontWeight": "bold", "color": "black"},
     "resolve": {"scale": {"color": "independent"}, "legend": {"color": "independent"}},
     "vconcat": [{"width": 607, "height": 165,
       "title": {"text": "P_j vs. Distance for part 1", "orient": "top", "anchor": "middle", "frame": "group", "offset": -28, "baseline": "alphabetic", "font": "Liberation Serif", "fontSize": 12, "fontWeight": "bold", "color": "white"},
       "resolve": {"axis": {"x": "independent", "y": "independent"}},
       "layer": [
         {"data": {"name": "gh"}, "transform": [{"filter": "datum.k == 'minor'"}], "mark": {"type": "rule", "color": "#3a3a3a", "strokeWidth": 1}, "encoding": {"y": {"field": "v", "type": "quantitative", "scale": {"type": "log", "domain": [4.21, 156000000], "nice": false}, "axis": null}, "x": {"datum": 0, "type": "quantitative", "scale": {"domain": [-21.2, 120], "nice": false, "zero": false}, "axis": null}, "x2": {"datum": 120}}},
         {"data": {"name": "gv"}, "transform": [{"filter": "datum.k == 'minor'"}], "mark": {"type": "rule", "color": "#303030", "strokeWidth": 1}, "encoding": {"x": {"field": "d", "type": "quantitative", "axis": null}, "y": {"datum": 100, "type": "quantitative", "axis": null}, "y2": {"datum": 20000000}}},
         {"data": {"name": "gv"}, "transform": [{"filter": "datum.k == 'major'"}], "mark": {"type": "rule", "color": "#707070", "strokeWidth": 1}, "encoding": {"x": {"field": "d", "type": "quantitative", "axis": null}, "y": {"datum": 100, "type": "quantitative", "axis": null}, "y2": {"datum": 20000000}}},
         {"data": {"name": "gh"}, "transform": [{"filter": "datum.k == 'major'"}], "mark": {"type": "rule", "color": "#a0a0a0", "strokeWidth": 2}, "encoding": {"y": {"field": "v", "type": "quantitative", "axis": null}, "x": {"datum": 0, "type": "quantitative", "axis": null}, "x2": {"datum": 120}}},
         {"data": {"name": "gh"}, "transform": [{"filter": "datum.k == 'axis'"}], "mark": {"type": "rule", "color": "#dddddd", "strokeWidth": 2}, "encoding": {"y": {"field": "v", "type": "quantitative", "axis": null}, "x": {"datum": 0, "type": "quantitative", "axis": null}, "x2": {"datum": 120}}},
         {"data": {"name": "gv"}, "transform": [{"filter": "datum.k == 'axis'"}], "mark": {"type": "rule", "color": "#d0d0d0", "strokeWidth": 1.5}, "encoding": {"x": {"field": "d", "type": "quantitative", "axis": null}, "y": {"datum": 100, "type": "quantitative", "axis": null}, "y2": {"datum": 20000000}}},
         {"data": {"name": "c"}, "mark": {"type": "line", "strokeWidth": 3, "clip": true},
          "encoding": {
            "x": {"field": "d", "type": "quantitative", "scale": {"domain": [-21.2, 120], "nice": false, "zero": false}, "axis": {"orient": "bottom", "values": [0, 20, 40, 60, 80, 100], "offset": -30, "zindex": 1, "domain": false, "ticks": false, "grid": false, "labelPadding": 8, "labelFont": "Lato", "labelFontSize": 15, "labelFontWeight": 300, "labelColor": "#c0c0c0", "labelFlush": false, "labelOverlap": false, "title": "Distance", "titleX": 364, "titleY": 26, "titleBaseline": "alphabetic", "titleAlign": "center", "titleFont": "Liberation Serif", "titleFontSize": 11, "titleFontWeight": "bold", "titleColor": "white"}},
            "y": {"field": "p", "type": "quantitative", "scale": {"type": "log", "domain": [4.21, 156000000], "nice": false}, "axis": {"orient": "left", "values": [100, 1000, 10000, 100000, 1000000, 10000000], "offset": -91, "zindex": 1, "domain": false, "ticks": false, "grid": false, "labelPadding": 8, "labelFont": "Lato", "labelFontSize": 15, "labelFontWeight": 300, "labelColor": "#c0c0c0", "labelOverlap": false, "labelFlush": false, "labelExpr": "datum.value == 10000000 ? '1e+007' : datum.value == 1000000 ? '1e+006' : format(datum.value, 'd')", "title": "P_j", "titleX": -82, "titleY": 76, "titleAngle": -90, "titleBaseline": "middle", "titleAlign": "center", "titleFont": "Liberation Serif", "titleFontSize": 11, "titleFontWeight": "bold", "titleColor": "white"}},
            "color": {"datum": "P_j vs. Distance for part 1", "type": "nominal", "scale": {"range": ["#e3141b"]}, "legend": {"title": null}}
          }}
       ]}]},
    {"title": {"text": "Time = 0.02597", "orient": "bottom", "anchor": "middle", "offset": 24, "baseline": "alphabetic", "font": "Liberation Serif", "fontSize": 26.5, "fontWeight": "bold", "color": "black"},
     "resolve": {"scale": {"color": "independent"}, "legend": {"color": "independent"}},
     "vconcat": [{"width": 607, "height": 165,
       "title": {"text": "P_j vs. Distance for part 1", "orient": "top", "anchor": "middle", "frame": "group", "offset": -28, "baseline": "alphabetic", "font": "Liberation Serif", "fontSize": 12, "fontWeight": "bold", "color": "white"},
       "resolve": {"axis": {"x": "independent", "y": "independent"}},
       "layer": [
         {"data": {"name": "gh"}, "transform": [{"filter": "datum.k == 'minor'"}], "mark": {"type": "rule", "color": "#3a3a3a", "strokeWidth": 1}, "encoding": {"y": {"field": "v", "type": "quantitative", "scale": {"type": "log", "domain": [4.21, 156000000], "nice": false}, "axis": null}, "x": {"datum": 0, "type": "quantitative", "scale": {"domain": [-21.2, 120], "nice": false, "zero": false}, "axis": null}, "x2": {"datum": 120}}},
         {"data": {"name": "gv"}, "transform": [{"filter": "datum.k == 'minor'"}], "mark": {"type": "rule", "color": "#303030", "strokeWidth": 1}, "encoding": {"x": {"field": "d", "type": "quantitative", "axis": null}, "y": {"datum": 100, "type": "quantitative", "axis": null}, "y2": {"datum": 20000000}}},
         {"data": {"name": "gv"}, "transform": [{"filter": "datum.k == 'major'"}], "mark": {"type": "rule", "color": "#707070", "strokeWidth": 1}, "encoding": {"x": {"field": "d", "type": "quantitative", "axis": null}, "y": {"datum": 100, "type": "quantitative", "axis": null}, "y2": {"datum": 20000000}}},
         {"data": {"name": "gh"}, "transform": [{"filter": "datum.k == 'major'"}], "mark": {"type": "rule", "color": "#a0a0a0", "strokeWidth": 2}, "encoding": {"y": {"field": "v", "type": "quantitative", "axis": null}, "x": {"datum": 0, "type": "quantitative", "axis": null}, "x2": {"datum": 120}}},
         {"data": {"name": "gh"}, "transform": [{"filter": "datum.k == 'axis'"}], "mark": {"type": "rule", "color": "#dddddd", "strokeWidth": 2}, "encoding": {"y": {"field": "v", "type": "quantitative", "axis": null}, "x": {"datum": 0, "type": "quantitative", "axis": null}, "x2": {"datum": 120}}},
         {"data": {"name": "gv"}, "transform": [{"filter": "datum.k == 'axis'"}], "mark": {"type": "rule", "color": "#d0d0d0", "strokeWidth": 1.5}, "encoding": {"x": {"field": "d", "type": "quantitative", "axis": null}, "y": {"datum": 100, "type": "quantitative", "axis": null}, "y2": {"datum": 20000000}}},
         {"data": {"name": "g"}, "mark": {"type": "line", "strokeWidth": 3, "clip": true},
          "encoding": {
            "x": {"field": "d", "type": "quantitative", "scale": {"domain": [-21.2, 120], "nice": false, "zero": false}, "axis": {"orient": "bottom", "values": [0, 20, 40, 60, 80, 100], "offset": -30, "zindex": 1, "domain": false, "ticks": false, "grid": false, "labelPadding": 8, "labelFont": "Lato", "labelFontSize": 15, "labelFontWeight": 300, "labelColor": "#c0c0c0", "labelFlush": false, "labelOverlap": false, "title": "Distance", "titleX": 364, "titleY": 26, "titleBaseline": "alphabetic", "titleAlign": "center", "titleFont": "Liberation Serif", "titleFontSize": 11, "titleFontWeight": "bold", "titleColor": "white"}},
            "y": {"field": "p", "type": "quantitative", "scale": {"type": "log", "domain": [4.21, 156000000], "nice": false}, "axis": {"orient": "left", "values": [100, 1000, 10000, 100000, 1000000, 10000000], "offset": -91, "zindex": 1, "domain": false, "ticks": false, "grid": false, "labelPadding": 8, "labelFont": "Lato", "labelFontSize": 15, "labelFontWeight": 300, "labelColor": "#c0c0c0", "labelOverlap": false, "labelFlush": false, "labelExpr": "datum.value == 10000000 ? '1e+007' : datum.value == 1000000 ? '1e+006' : format(datum.value, 'd')", "title": "P_j", "titleX": -82, "titleY": 76, "titleAngle": -90, "titleBaseline": "middle", "titleAlign": "center", "titleFont": "Liberation Serif", "titleFontSize": 11, "titleFontWeight": "bold", "titleColor": "white"}},
            "color": {"datum": "P_j vs. Distance for part 1", "type": "nominal", "scale": {"range": ["#e3141b"]}, "legend": {"title": null}}
          }}
       ]}]}
  ], "spacing": 44, "resolve": {"scale": {"color": "independent"}, "legend": {"color": "independent"}}},
  {"hconcat": [
    {"title": {"text": "Time = 0.00960", "orient": "bottom", "anchor": "middle", "offset": 24, "baseline": "alphabetic", "font": "Liberation Serif", "fontSize": 26.5, "fontWeight": "bold", "color": "black"},
     "resolve": {"scale": {"color": "independent"}, "legend": {"color": "independent"}},
     "vconcat": [{"width": 607, "height": 165,
       "title": {"text": "P_j vs. Distance for part 1", "orient": "top", "anchor": "middle", "frame": "group", "offset": -28, "baseline": "alphabetic", "font": "Liberation Serif", "fontSize": 12, "fontWeight": "bold", "color": "white"},
       "resolve": {"axis": {"x": "independent", "y": "independent"}},
       "layer": [
         {"data": {"name": "gh"}, "transform": [{"filter": "datum.k == 'minor'"}], "mark": {"type": "rule", "color": "#3a3a3a", "strokeWidth": 1}, "encoding": {"y": {"field": "v", "type": "quantitative", "scale": {"type": "log", "domain": [4.21, 156000000], "nice": false}, "axis": null}, "x": {"datum": 0, "type": "quantitative", "scale": {"domain": [-21.2, 120], "nice": false, "zero": false}, "axis": null}, "x2": {"datum": 120}}},
         {"data": {"name": "gv"}, "transform": [{"filter": "datum.k == 'minor'"}], "mark": {"type": "rule", "color": "#303030", "strokeWidth": 1}, "encoding": {"x": {"field": "d", "type": "quantitative", "axis": null}, "y": {"datum": 100, "type": "quantitative", "axis": null}, "y2": {"datum": 20000000}}},
         {"data": {"name": "gv"}, "transform": [{"filter": "datum.k == 'major'"}], "mark": {"type": "rule", "color": "#707070", "strokeWidth": 1}, "encoding": {"x": {"field": "d", "type": "quantitative", "axis": null}, "y": {"datum": 100, "type": "quantitative", "axis": null}, "y2": {"datum": 20000000}}},
         {"data": {"name": "gh"}, "transform": [{"filter": "datum.k == 'major'"}], "mark": {"type": "rule", "color": "#a0a0a0", "strokeWidth": 2}, "encoding": {"y": {"field": "v", "type": "quantitative", "axis": null}, "x": {"datum": 0, "type": "quantitative", "axis": null}, "x2": {"datum": 120}}},
         {"data": {"name": "gh"}, "transform": [{"filter": "datum.k == 'axis'"}], "mark": {"type": "rule", "color": "#dddddd", "strokeWidth": 2}, "encoding": {"y": {"field": "v", "type": "quantitative", "axis": null}, "x": {"datum": 0, "type": "quantitative", "axis": null}, "x2": {"datum": 120}}},
         {"data": {"name": "gv"}, "transform": [{"filter": "datum.k == 'axis'"}], "mark": {"type": "rule", "color": "#d0d0d0", "strokeWidth": 1.5}, "encoding": {"x": {"field": "d", "type": "quantitative", "axis": null}, "y": {"datum": 100, "type": "quantitative", "axis": null}, "y2": {"datum": 20000000}}},
         {"data": {"name": "dd"}, "mark": {"type": "line", "strokeWidth": 3, "clip": true},
          "encoding": {
            "x": {"field": "d", "type": "quantitative", "scale": {"domain": [-21.2, 120], "nice": false, "zero": false}, "axis": {"orient": "bottom", "values": [0, 20, 40, 60, 80, 100], "offset": -30, "zindex": 1, "domain": false, "ticks": false, "grid": false, "labelPadding": 8, "labelFont": "Lato", "labelFontSize": 15, "labelFontWeight": 300, "labelColor": "#c0c0c0", "labelFlush": false, "labelOverlap": false, "title": "Distance", "titleX": 364, "titleY": 26, "titleBaseline": "alphabetic", "titleAlign": "center", "titleFont": "Liberation Serif", "titleFontSize": 11, "titleFontWeight": "bold", "titleColor": "white"}},
            "y": {"field": "p", "type": "quantitative", "scale": {"type": "log", "domain": [4.21, 156000000], "nice": false}, "axis": {"orient": "left", "values": [100, 1000, 10000, 100000, 1000000, 10000000], "offset": -91, "zindex": 1, "domain": false, "ticks": false, "grid": false, "labelPadding": 8, "labelFont": "Lato", "labelFontSize": 15, "labelFontWeight": 300, "labelColor": "#c0c0c0", "labelOverlap": false, "labelFlush": false, "labelExpr": "datum.value == 10000000 ? '1e+007' : datum.value == 1000000 ? '1e+006' : format(datum.value, 'd')", "title": "P_j", "titleX": -82, "titleY": 76, "titleAngle": -90, "titleBaseline": "middle", "titleAlign": "center", "titleFont": "Liberation Serif", "titleFontSize": 11, "titleFontWeight": "bold", "titleColor": "white"}},
            "color": {"datum": "P_j vs. Distance for part 1", "type": "nominal", "scale": {"range": ["#e3141b"]}, "legend": {"title": null}}
          }}
       ]}]},
    {"title": {"text": "Time = 0.03223", "orient": "bottom", "anchor": "middle", "offset": 24, "baseline": "alphabetic", "font": "Liberation Serif", "fontSize": 26.5, "fontWeight": "bold", "color": "black"},
     "resolve": {"scale": {"color": "independent"}, "legend": {"color": "independent"}},
     "vconcat": [{"width": 607, "height": 165,
       "title": {"text": "P_j vs. Distance for part 1", "orient": "top", "anchor": "middle", "frame": "group", "offset": -28, "baseline": "alphabetic", "font": "Liberation Serif", "fontSize": 12, "fontWeight": "bold", "color": "white"},
       "resolve": {"axis": {"x": "independent", "y": "independent"}},
       "layer": [
         {"data": {"name": "gh"}, "transform": [{"filter": "datum.k == 'minor'"}], "mark": {"type": "rule", "color": "#3a3a3a", "strokeWidth": 1}, "encoding": {"y": {"field": "v", "type": "quantitative", "scale": {"type": "log", "domain": [4.21, 156000000], "nice": false}, "axis": null}, "x": {"datum": 0, "type": "quantitative", "scale": {"domain": [-21.2, 120], "nice": false, "zero": false}, "axis": null}, "x2": {"datum": 120}}},
         {"data": {"name": "gv"}, "transform": [{"filter": "datum.k == 'minor'"}], "mark": {"type": "rule", "color": "#303030", "strokeWidth": 1}, "encoding": {"x": {"field": "d", "type": "quantitative", "axis": null}, "y": {"datum": 100, "type": "quantitative", "axis": null}, "y2": {"datum": 20000000}}},
         {"data": {"name": "gv"}, "transform": [{"filter": "datum.k == 'major'"}], "mark": {"type": "rule", "color": "#707070", "strokeWidth": 1}, "encoding": {"x": {"field": "d", "type": "quantitative", "axis": null}, "y": {"datum": 100, "type": "quantitative", "axis": null}, "y2": {"datum": 20000000}}},
         {"data": {"name": "gh"}, "transform": [{"filter": "datum.k == 'major'"}], "mark": {"type": "rule", "color": "#a0a0a0", "strokeWidth": 2}, "encoding": {"y": {"field": "v", "type": "quantitative", "axis": null}, "x": {"datum": 0, "type": "quantitative", "axis": null}, "x2": {"datum": 120}}},
         {"data": {"name": "gh"}, "transform": [{"filter": "datum.k == 'axis'"}], "mark": {"type": "rule", "color": "#dddddd", "strokeWidth": 2}, "encoding": {"y": {"field": "v", "type": "quantitative", "axis": null}, "x": {"datum": 0, "type": "quantitative", "axis": null}, "x2": {"datum": 120}}},
         {"data": {"name": "gv"}, "transform": [{"filter": "datum.k == 'axis'"}], "mark": {"type": "rule", "color": "#d0d0d0", "strokeWidth": 1.5}, "encoding": {"x": {"field": "d", "type": "quantitative", "axis": null}, "y": {"datum": 100, "type": "quantitative", "axis": null}, "y2": {"datum": 20000000}}},
         {"data": {"name": "h"}, "mark": {"type": "line", "strokeWidth": 3, "clip": true},
          "encoding": {
            "x": {"field": "d", "type": "quantitative", "scale": {"domain": [-21.2, 120], "nice": false, "zero": false}, "axis": {"orient": "bottom", "values": [0, 20, 40, 60, 80, 100], "offset": -30, "zindex": 1, "domain": false, "ticks": false, "grid": false, "labelPadding": 8, "labelFont": "Lato", "labelFontSize": 15, "labelFontWeight": 300, "labelColor": "#c0c0c0", "labelFlush": false, "labelOverlap": false, "title": "Distance", "titleX": 364, "titleY": 26, "titleBaseline": "alphabetic", "titleAlign": "center", "titleFont": "Liberation Serif", "titleFontSize": 11, "titleFontWeight": "bold", "titleColor": "white"}},
            "y": {"field": "p", "type": "quantitative", "scale": {"type": "log", "domain": [4.21, 156000000], "nice": false}, "axis": {"orient": "left", "values": [100, 1000, 10000, 100000, 1000000, 10000000], "offset": -91, "zindex": 1, "domain": false, "ticks": false, "grid": false, "labelPadding": 8, "labelFont": "Lato", "labelFontSize": 15, "labelFontWeight": 300, "labelColor": "#c0c0c0", "labelOverlap": false, "labelFlush": false, "labelExpr": "datum.value == 10000000 ? '1e+007' : datum.value == 1000000 ? '1e+006' : format(datum.value, 'd')", "title": "P_j", "titleX": -82, "titleY": 76, "titleAngle": -90, "titleBaseline": "middle", "titleAlign": "center", "titleFont": "Liberation Serif", "titleFontSize": 11, "titleFontWeight": "bold", "titleColor": "white"}},
            "color": {"datum": "P_j vs. Distance for part 1", "type": "nominal", "scale": {"range": ["#e3141b"]}, "legend": {"title": null}}
          }}
       ]}]}
  ], "spacing": 44, "resolve": {"scale": {"color": "independent"}, "legend": {"color": "independent"}}},
  {"title": {"text": "Time = 0.03958", "orient": "bottom", "anchor": "middle", "offset": 24, "baseline": "alphabetic", "font": "Liberation Serif", "fontSize": 26.5, "fontWeight": "bold", "color": "black"},
   "resolve": {"scale": {"color": "independent"}, "legend": {"color": "independent"}},
   "vconcat": [{"width": 607, "height": 165,
     "title": {"text": "P_j vs. Distance for part 1", "orient": "top", "anchor": "middle", "frame": "group", "offset": -28, "baseline": "alphabetic", "font": "Liberation Serif", "fontSize": 12, "fontWeight": "bold", "color": "white"},
     "resolve": {"axis": {"x": "independent", "y": "independent"}},
     "layer": [
       {"data": {"name": "gh"}, "transform": [{"filter": "datum.k == 'minor'"}], "mark": {"type": "rule", "color": "#3a3a3a", "strokeWidth": 1}, "encoding": {"y": {"field": "v", "type": "quantitative", "scale": {"type": "log", "domain": [4.21, 156000000], "nice": false}, "axis": null}, "x": {"datum": 0, "type": "quantitative", "scale": {"domain": [-21.2, 120], "nice": false, "zero": false}, "axis": null}, "x2": {"datum": 120}}},
       {"data": {"name": "gv"}, "transform": [{"filter": "datum.k == 'minor'"}], "mark": {"type": "rule", "color": "#303030", "strokeWidth": 1}, "encoding": {"x": {"field": "d", "type": "quantitative", "axis": null}, "y": {"datum": 100, "type": "quantitative", "axis": null}, "y2": {"datum": 20000000}}},
       {"data": {"name": "gv"}, "transform": [{"filter": "datum.k == 'major'"}], "mark": {"type": "rule", "color": "#707070", "strokeWidth": 1}, "encoding": {"x": {"field": "d", "type": "quantitative", "axis": null}, "y": {"datum": 100, "type": "quantitative", "axis": null}, "y2": {"datum": 20000000}}},
       {"data": {"name": "gh"}, "transform": [{"filter": "datum.k == 'major'"}], "mark": {"type": "rule", "color": "#a0a0a0", "strokeWidth": 2}, "encoding": {"y": {"field": "v", "type": "quantitative", "axis": null}, "x": {"datum": 0, "type": "quantitative", "axis": null}, "x2": {"datum": 120}}},
       {"data": {"name": "gh"}, "transform": [{"filter": "datum.k == 'axis'"}], "mark": {"type": "rule", "color": "#dddddd", "strokeWidth": 2}, "encoding": {"y": {"field": "v", "type": "quantitative", "axis": null}, "x": {"datum": 0, "type": "quantitative", "axis": null}, "x2": {"datum": 120}}},
       {"data": {"name": "gv"}, "transform": [{"filter": "datum.k == 'axis'"}], "mark": {"type": "rule", "color": "#d0d0d0", "strokeWidth": 1.5}, "encoding": {"x": {"field": "d", "type": "quantitative", "axis": null}, "y": {"datum": 100, "type": "quantitative", "axis": null}, "y2": {"datum": 20000000}}},
       {"data": {"name": "i"}, "mark": {"type": "line", "strokeWidth": 3, "clip": true},
        "encoding": {
          "x": {"field": "d", "type": "quantitative", "scale": {"domain": [-21.2, 120], "nice": false, "zero": false}, "axis": {"orient": "bottom", "values": [0, 20, 40, 60, 80, 100], "offset": -30, "zindex": 1, "domain": false, "ticks": false, "grid": false, "labelPadding": 8, "labelFont": "Lato", "labelFontSize": 15, "labelFontWeight": 300, "labelColor": "#c0c0c0", "labelFlush": false, "labelOverlap": false, "title": "Distance", "titleX": 364, "titleY": 26, "titleBaseline": "alphabetic", "titleAlign": "center", "titleFont": "Liberation Serif", "titleFontSize": 11, "titleFontWeight": "bold", "titleColor": "white"}},
          "y": {"field": "p", "type": "quantitative", "scale": {"type": "log", "domain": [4.21, 156000000], "nice": false}, "axis": {"orient": "left", "values": [100, 1000, 10000, 100000, 1000000, 10000000], "offset": -91, "zindex": 1, "domain": false, "ticks": false, "grid": false, "labelPadding": 8, "labelFont": "Lato", "labelFontSize": 15, "labelFontWeight": 300, "labelColor": "#c0c0c0", "labelOverlap": false, "labelFlush": false, "labelExpr": "datum.value == 10000000 ? '1e+007' : datum.value == 1000000 ? '1e+006' : format(datum.value, 'd')", "title": "P_j", "titleX": -82, "titleY": 76, "titleAngle": -90, "titleBaseline": "middle", "titleAlign": "center", "titleFont": "Liberation Serif", "titleFontSize": 11, "titleFontWeight": "bold", "titleColor": "white"}},
          "color": {"datum": "P_j vs. Distance for part 1", "type": "nominal", "scale": {"range": ["#e3141b"]}, "legend": {"title": null}}
        }}
     ]}]}
]
}
